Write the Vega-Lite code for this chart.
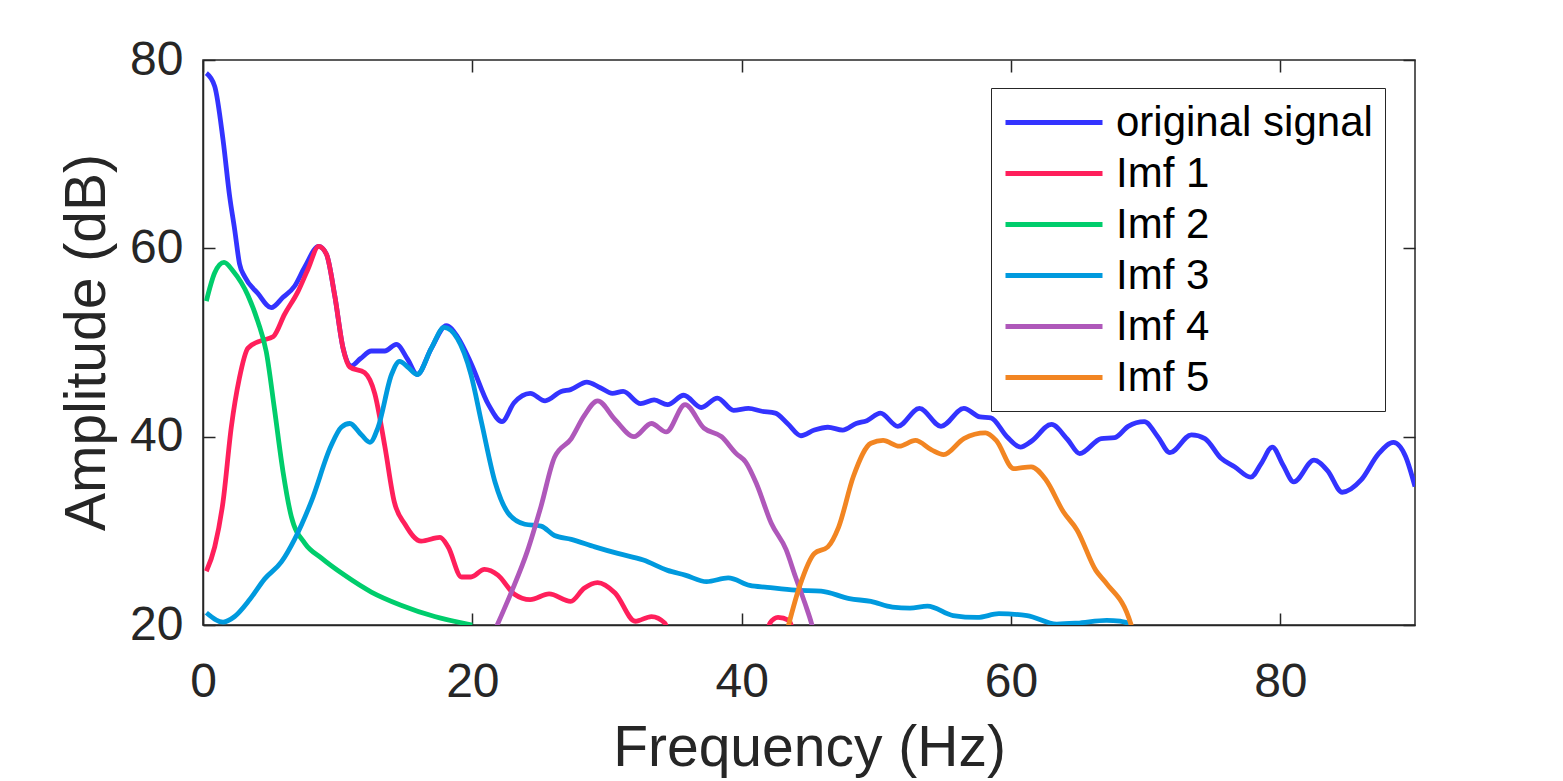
{
  "$schema": "https://vega.github.io/schema/vega-lite/v6.json",
  "width": 1212,
  "height": 565,
  "autosize": {"type": "none"},
  "padding": {"left": 203, "top": 60, "right": 148, "bottom": 156},
  "background": "white",
  "config": {
    "font": "Liberation Sans",
    "view": {"stroke": "#262626", "strokeWidth": 1.5},
    "axis": {
      "grid": false,
      "domainColor": "#262626",
      "domainWidth": 1.5,
      "tickColor": "#262626",
      "tickWidth": 1.5,
      "tickSize": -12,
      "labelFlush": false,
      "labelFont": "Liberation Sans",
      "labelFontSize": 48,
      "labelColor": "#262626",
      "titleFont": "Liberation Sans",
      "titleFontSize": 57,
      "titleFontWeight": "normal",
      "titleColor": "#262626"
    }
  },
  "data": {
    "values": [
      {"series": "original signal", "f": 0.25, "a": 78.6},
      {"series": "original signal", "f": 0.87, "a": 77.2},
      {"series": "original signal", "f": 1.49, "a": 71.5},
      {"series": "original signal", "f": 1.98, "a": 65.5},
      {"series": "original signal", "f": 2.35, "a": 62.0},
      {"series": "original signal", "f": 2.72, "a": 58.3},
      {"series": "original signal", "f": 3.09, "a": 57.0},
      {"series": "original signal", "f": 4.08, "a": 55.2},
      {"series": "original signal", "f": 5.07, "a": 53.7},
      {"series": "original signal", "f": 5.94, "a": 54.8},
      {"series": "original signal", "f": 6.81, "a": 56.0},
      {"series": "original signal", "f": 7.55, "a": 58.0},
      {"series": "original signal", "f": 8.59, "a": 60.2},
      {"series": "original signal", "f": 9.16, "a": 59.4},
      {"series": "original signal", "f": 9.78, "a": 55.0},
      {"series": "original signal", "f": 10.4, "a": 49.4},
      {"series": "original signal", "f": 11.0, "a": 47.5},
      {"series": "original signal", "f": 11.7, "a": 48.3},
      {"series": "original signal", "f": 12.5, "a": 49.1},
      {"series": "original signal", "f": 13.5, "a": 49.1},
      {"series": "original signal", "f": 14.36, "a": 49.8},
      {"series": "original signal", "f": 15.2, "a": 48.2},
      {"series": "original signal", "f": 15.9, "a": 46.6},
      {"series": "original signal", "f": 16.96, "a": 49.4},
      {"series": "original signal", "f": 18.07, "a": 51.8},
      {"series": "original signal", "f": 18.9, "a": 50.6},
      {"series": "original signal", "f": 19.9, "a": 47.8},
      {"series": "original signal", "f": 21.2, "a": 43.4},
      {"series": "original signal", "f": 22.2, "a": 41.6},
      {"series": "original signal", "f": 23.1, "a": 43.6},
      {"series": "original signal", "f": 24.3, "a": 44.6},
      {"series": "original signal", "f": 25.4, "a": 43.8},
      {"series": "original signal", "f": 26.6, "a": 44.8},
      {"series": "original signal", "f": 27.3, "a": 45.0},
      {"series": "original signal", "f": 28.5, "a": 45.8},
      {"series": "original signal", "f": 29.5, "a": 45.2},
      {"series": "original signal", "f": 30.4, "a": 44.6},
      {"series": "original signal", "f": 31.2, "a": 44.8},
      {"series": "original signal", "f": 32.5, "a": 43.5},
      {"series": "original signal", "f": 33.5, "a": 43.9},
      {"series": "original signal", "f": 34.5, "a": 43.4},
      {"series": "original signal", "f": 35.7, "a": 44.4},
      {"series": "original signal", "f": 37.0, "a": 43.1},
      {"series": "original signal", "f": 38.2, "a": 44.1},
      {"series": "original signal", "f": 39.4, "a": 42.8},
      {"series": "original signal", "f": 40.5, "a": 43.0},
      {"series": "original signal", "f": 41.5, "a": 42.7},
      {"series": "original signal", "f": 42.5, "a": 42.5},
      {"series": "original signal", "f": 43.4, "a": 41.4},
      {"series": "original signal", "f": 44.4, "a": 40.1},
      {"series": "original signal", "f": 45.4, "a": 40.7},
      {"series": "original signal", "f": 46.4, "a": 41.0},
      {"series": "original signal", "f": 47.5, "a": 40.7},
      {"series": "original signal", "f": 48.5, "a": 41.4},
      {"series": "original signal", "f": 49.3, "a": 41.7},
      {"series": "original signal", "f": 50.3, "a": 42.5},
      {"series": "original signal", "f": 51.6, "a": 41.1},
      {"series": "original signal", "f": 53.2, "a": 43.0},
      {"series": "original signal", "f": 54.8, "a": 41.1},
      {"series": "original signal", "f": 56.5, "a": 43.0},
      {"series": "original signal", "f": 57.7, "a": 42.1},
      {"series": "original signal", "f": 58.5, "a": 42.0},
      {"series": "original signal", "f": 59.7, "a": 40.0},
      {"series": "original signal", "f": 60.7, "a": 38.9},
      {"series": "original signal", "f": 61.5, "a": 39.5},
      {"series": "original signal", "f": 63.0, "a": 41.3},
      {"series": "original signal", "f": 64.2, "a": 39.7},
      {"series": "original signal", "f": 65.1, "a": 38.2},
      {"series": "original signal", "f": 66.7, "a": 39.8},
      {"series": "original signal", "f": 67.7, "a": 39.9},
      {"series": "original signal", "f": 68.7, "a": 41.1},
      {"series": "original signal", "f": 69.9, "a": 41.6},
      {"series": "original signal", "f": 70.9, "a": 40.0},
      {"series": "original signal", "f": 71.8, "a": 38.3},
      {"series": "original signal", "f": 73.4, "a": 40.2},
      {"series": "original signal", "f": 74.4, "a": 39.8},
      {"series": "original signal", "f": 75.6, "a": 37.7},
      {"series": "original signal", "f": 76.6, "a": 36.8},
      {"series": "original signal", "f": 77.8, "a": 35.7},
      {"series": "original signal", "f": 78.6, "a": 37.2},
      {"series": "original signal", "f": 79.4, "a": 38.9},
      {"series": "original signal", "f": 80.2, "a": 37.0},
      {"series": "original signal", "f": 81.0, "a": 35.2},
      {"series": "original signal", "f": 82.5, "a": 37.5},
      {"series": "original signal", "f": 83.5, "a": 36.4},
      {"series": "original signal", "f": 84.6, "a": 34.1},
      {"series": "original signal", "f": 86.0, "a": 35.4},
      {"series": "original signal", "f": 87.3, "a": 38.2},
      {"series": "original signal", "f": 88.4, "a": 39.4},
      {"series": "original signal", "f": 89.3, "a": 37.9},
      {"series": "original signal", "f": 90.0, "a": 34.7},

      {"series": "Imf 1", "f": 0.25, "a": 25.7},
      {"series": "Imf 1", "f": 0.87, "a": 28.3},
      {"series": "Imf 1", "f": 1.49, "a": 33.1},
      {"series": "Imf 1", "f": 2.1, "a": 41.0},
      {"series": "Imf 1", "f": 2.7, "a": 46.2},
      {"series": "Imf 1", "f": 3.34, "a": 49.4},
      {"series": "Imf 1", "f": 4.33, "a": 50.2},
      {"series": "Imf 1", "f": 5.2, "a": 50.6},
      {"series": "Imf 1", "f": 6.06, "a": 53.0},
      {"series": "Imf 1", "f": 7.05, "a": 55.4},
      {"series": "Imf 1", "f": 7.8, "a": 57.8},
      {"series": "Imf 1", "f": 8.59, "a": 60.2},
      {"series": "Imf 1", "f": 9.16, "a": 59.4},
      {"series": "Imf 1", "f": 9.78, "a": 55.0},
      {"series": "Imf 1", "f": 10.4, "a": 49.4},
      {"series": "Imf 1", "f": 10.9, "a": 47.4},
      {"series": "Imf 1", "f": 12.0, "a": 46.8},
      {"series": "Imf 1", "f": 12.75, "a": 44.6},
      {"series": "Imf 1", "f": 13.5, "a": 39.0},
      {"series": "Imf 1", "f": 14.2, "a": 33.1},
      {"series": "Imf 1", "f": 15.0, "a": 30.7},
      {"series": "Imf 1", "f": 16.2, "a": 28.9},
      {"series": "Imf 1", "f": 17.6, "a": 29.3},
      {"series": "Imf 1", "f": 18.2, "a": 28.3},
      {"series": "Imf 1", "f": 19.2, "a": 25.1},
      {"series": "Imf 1", "f": 19.9, "a": 25.1},
      {"series": "Imf 1", "f": 20.9, "a": 25.9},
      {"series": "Imf 1", "f": 21.9, "a": 25.3},
      {"series": "Imf 1", "f": 23.1, "a": 23.3},
      {"series": "Imf 1", "f": 24.3, "a": 22.7},
      {"series": "Imf 1", "f": 25.7, "a": 23.3},
      {"series": "Imf 1", "f": 27.3, "a": 22.5},
      {"series": "Imf 1", "f": 28.3, "a": 23.9},
      {"series": "Imf 1", "f": 29.3, "a": 24.5},
      {"series": "Imf 1", "f": 30.6, "a": 23.4},
      {"series": "Imf 1", "f": 32.1, "a": 20.4},
      {"series": "Imf 1", "f": 33.3, "a": 20.9},
      {"series": "Imf 1", "f": 34.3, "a": 20.2},
      {"series": "Imf 1", "f": 35.0, "a": 17.0},
      {"series": "Imf 1", "f": 41.5, "a": 17.0},
      {"series": "Imf 1", "f": 42.1, "a": 20.2},
      {"series": "Imf 1", "f": 42.7, "a": 20.8},
      {"series": "Imf 1", "f": 43.5, "a": 20.5},
      {"series": "Imf 1", "f": 44.0, "a": 18.0},

      {"series": "Imf 2", "f": 0.25, "a": 54.4},
      {"series": "Imf 2", "f": 0.87, "a": 57.4},
      {"series": "Imf 2", "f": 1.56, "a": 58.5},
      {"series": "Imf 2", "f": 2.23, "a": 57.6},
      {"series": "Imf 2", "f": 3.34, "a": 55.0},
      {"series": "Imf 2", "f": 4.08, "a": 52.2},
      {"series": "Imf 2", "f": 4.7, "a": 49.0},
      {"series": "Imf 2", "f": 5.3, "a": 43.0},
      {"series": "Imf 2", "f": 5.94, "a": 36.3},
      {"series": "Imf 2", "f": 6.56, "a": 31.5},
      {"series": "Imf 2", "f": 7.55, "a": 28.7},
      {"series": "Imf 2", "f": 8.8, "a": 27.1},
      {"series": "Imf 2", "f": 10.5, "a": 25.3},
      {"series": "Imf 2", "f": 12.5, "a": 23.5},
      {"series": "Imf 2", "f": 14.7, "a": 22.1},
      {"series": "Imf 2", "f": 17.2, "a": 20.9},
      {"series": "Imf 2", "f": 20.0, "a": 20.0},

      {"series": "Imf 3", "f": 0.25, "a": 21.3},
      {"series": "Imf 3", "f": 1.49, "a": 20.3},
      {"series": "Imf 3", "f": 2.35, "a": 20.9},
      {"series": "Imf 3", "f": 3.47, "a": 22.7},
      {"series": "Imf 3", "f": 4.58, "a": 24.9},
      {"series": "Imf 3", "f": 5.82, "a": 26.7},
      {"series": "Imf 3", "f": 6.8, "a": 29.1},
      {"series": "Imf 3", "f": 8.04, "a": 33.1},
      {"series": "Imf 3", "f": 9.5, "a": 39.0},
      {"series": "Imf 3", "f": 10.27, "a": 41.0},
      {"series": "Imf 3", "f": 10.9, "a": 41.4},
      {"series": "Imf 3", "f": 11.76, "a": 40.2},
      {"series": "Imf 3", "f": 12.4, "a": 39.4},
      {"series": "Imf 3", "f": 13.0, "a": 41.0},
      {"series": "Imf 3", "f": 14.0, "a": 46.6},
      {"series": "Imf 3", "f": 14.6, "a": 48.0},
      {"series": "Imf 3", "f": 15.2, "a": 47.4},
      {"series": "Imf 3", "f": 15.9, "a": 46.6},
      {"series": "Imf 3", "f": 16.96, "a": 49.4},
      {"series": "Imf 3", "f": 17.9, "a": 51.6},
      {"series": "Imf 3", "f": 18.9, "a": 50.4},
      {"series": "Imf 3", "f": 19.9, "a": 46.6},
      {"series": "Imf 3", "f": 20.7, "a": 41.4},
      {"series": "Imf 3", "f": 21.7, "a": 35.1},
      {"series": "Imf 3", "f": 22.65, "a": 31.9},
      {"series": "Imf 3", "f": 23.9, "a": 30.7},
      {"series": "Imf 3", "f": 25.1, "a": 30.5},
      {"series": "Imf 3", "f": 26.1, "a": 29.5},
      {"series": "Imf 3", "f": 27.35, "a": 29.1},
      {"series": "Imf 3", "f": 29.1, "a": 28.3},
      {"series": "Imf 3", "f": 30.8, "a": 27.6},
      {"series": "Imf 3", "f": 32.7, "a": 26.9},
      {"series": "Imf 3", "f": 34.5, "a": 25.8},
      {"series": "Imf 3", "f": 35.8, "a": 25.3},
      {"series": "Imf 3", "f": 37.4, "a": 24.6},
      {"series": "Imf 3", "f": 39.0, "a": 25.0},
      {"series": "Imf 3", "f": 40.6, "a": 24.2},
      {"series": "Imf 3", "f": 41.9, "a": 24.0},
      {"series": "Imf 3", "f": 44.0, "a": 23.7},
      {"series": "Imf 3", "f": 45.9, "a": 23.6},
      {"series": "Imf 3", "f": 48.0, "a": 22.8},
      {"series": "Imf 3", "f": 49.6, "a": 22.5},
      {"series": "Imf 3", "f": 51.2, "a": 21.9},
      {"series": "Imf 3", "f": 52.5, "a": 21.8},
      {"series": "Imf 3", "f": 53.8, "a": 22.0},
      {"series": "Imf 3", "f": 55.7, "a": 21.0},
      {"series": "Imf 3", "f": 57.5, "a": 20.8},
      {"series": "Imf 3", "f": 59.1, "a": 21.2},
      {"series": "Imf 3", "f": 61.2, "a": 21.0},
      {"series": "Imf 3", "f": 63.4, "a": 20.1},
      {"series": "Imf 3", "f": 64.9, "a": 20.2},
      {"series": "Imf 3", "f": 67.1, "a": 20.5},
      {"series": "Imf 3", "f": 68.1, "a": 20.4},
      {"series": "Imf 3", "f": 68.9, "a": 20.1},

      {"series": "Imf 4", "f": 21.6, "a": 19.2},
      {"series": "Imf 4", "f": 22.9, "a": 23.5},
      {"series": "Imf 4", "f": 24.1, "a": 27.9},
      {"series": "Imf 4", "f": 25.1, "a": 32.6},
      {"series": "Imf 4", "f": 26.1, "a": 37.8},
      {"series": "Imf 4", "f": 27.35, "a": 39.8},
      {"series": "Imf 4", "f": 28.3, "a": 42.2},
      {"series": "Imf 4", "f": 29.3, "a": 43.8},
      {"series": "Imf 4", "f": 30.6, "a": 41.8},
      {"series": "Imf 4", "f": 32.0, "a": 40.0},
      {"series": "Imf 4", "f": 33.3, "a": 41.4},
      {"series": "Imf 4", "f": 34.4, "a": 40.5},
      {"series": "Imf 4", "f": 35.8, "a": 43.4},
      {"series": "Imf 4", "f": 37.2, "a": 40.9},
      {"series": "Imf 4", "f": 38.5, "a": 40.0},
      {"series": "Imf 4", "f": 39.6, "a": 38.2},
      {"series": "Imf 4", "f": 40.3, "a": 37.3},
      {"series": "Imf 4", "f": 41.1, "a": 35.0},
      {"series": "Imf 4", "f": 42.2, "a": 30.8},
      {"series": "Imf 4", "f": 43.3, "a": 28.0},
      {"series": "Imf 4", "f": 44.0, "a": 25.1},
      {"series": "Imf 4", "f": 44.7, "a": 22.3},
      {"series": "Imf 4", "f": 45.2, "a": 20.1},
      {"series": "Imf 4", "f": 45.4, "a": 19.0},

      {"series": "Imf 5", "f": 43.3, "a": 19.0},
      {"series": "Imf 5", "f": 43.5, "a": 20.1},
      {"series": "Imf 5", "f": 44.3, "a": 24.1},
      {"series": "Imf 5", "f": 45.4, "a": 27.6},
      {"series": "Imf 5", "f": 46.4, "a": 28.3},
      {"series": "Imf 5", "f": 47.2, "a": 30.4},
      {"series": "Imf 5", "f": 48.3, "a": 35.8},
      {"series": "Imf 5", "f": 49.6, "a": 39.3},
      {"series": "Imf 5", "f": 50.5, "a": 39.6},
      {"series": "Imf 5", "f": 51.7, "a": 39.0},
      {"series": "Imf 5", "f": 52.9, "a": 39.6},
      {"series": "Imf 5", "f": 54.1, "a": 38.6},
      {"series": "Imf 5", "f": 55.0, "a": 38.1},
      {"series": "Imf 5", "f": 56.5, "a": 39.8},
      {"series": "Imf 5", "f": 58.1, "a": 40.4},
      {"series": "Imf 5", "f": 58.9, "a": 39.6},
      {"series": "Imf 5", "f": 60.2, "a": 36.6},
      {"series": "Imf 5", "f": 61.5, "a": 36.8},
      {"series": "Imf 5", "f": 62.6, "a": 35.4},
      {"series": "Imf 5", "f": 63.9, "a": 32.0},
      {"series": "Imf 5", "f": 64.9, "a": 30.1},
      {"series": "Imf 5", "f": 66.3, "a": 25.8},
      {"series": "Imf 5", "f": 67.1, "a": 24.4},
      {"series": "Imf 5", "f": 68.9, "a": 20.1},
      {"series": "Imf 5", "f": 69.1, "a": 19.0}
    ]
  },
  "layer": [
    {
      "mark": {"type": "line", "strokeWidth": 4.8, "clip": true, "interpolate": "monotone"},
      "encoding": {
        "x": {
          "field": "f",
          "type": "quantitative",
          "scale": {"domain": [0, 90], "nice": false, "zero": false},
          "axis": {
            "orient": "bottom",
            "values": [0, 20, 40, 60, 80],
            "labelPadding": 45,
            "title": "Frequency (Hz)",
            "titleBaseline": "alphabetic",
            "titleY": 140
          }
        },
        "y": {
          "field": "a",
          "type": "quantitative",
          "scale": {"domain": [20, 80], "nice": false, "zero": false},
          "axis": {
            "orient": "left",
            "values": [20, 40, 60, 80],
            "labelPadding": 32,
            "title": "Amplitude (dB)",
            "titleBaseline": "alphabetic",
            "titleAlign": "center",
            "titleX": -99,
            "titleY": 282
          }
        },
        "color": {
          "field": "series",
          "type": "nominal",
          "scale": {
            "domain": ["original signal", "Imf 1", "Imf 2", "Imf 3", "Imf 4", "Imf 5"],
            "range": ["#3333FF", "#FF1F5B", "#00CD6C", "#009ADE", "#AF58BA", "#F28522"]
          },
          "legend": {
            "orient": "none",
            "legendX": 788,
            "legendY": 28,
            "title": null,
            "symbolType": "M-1,0H3.85",
            "symbolSize": 1600,
            "symbolStrokeWidth": 4.8,
            "labelFont": "Liberation Sans",
            "labelFontSize": 42,
            "labelColor": "black",
            "labelOffset": 68,
            "labelLimit": 600,
            "rowPadding": 7,
            "padding": 12,
            "strokeColor": "#262626",
            "fillColor": "white"
          }
        },
        "order": {"field": "f", "type": "quantitative"}
      }
    },
    {
      "mark": {"type": "point", "opacity": 0},
      "encoding": {
        "x": {
          "field": "f",
          "type": "quantitative",
          "axis": {"orient": "top", "values": [0, 20, 40, 60, 80], "labels": false, "domain": false, "title": null}
        },
        "y": {
          "field": "a",
          "type": "quantitative",
          "axis": {"orient": "right", "values": [20, 40, 60, 80], "labels": false, "domain": false, "title": null}
        }
      }
    }
  ],
  "resolve": {"axis": {"x": "independent", "y": "independent"}}
}
